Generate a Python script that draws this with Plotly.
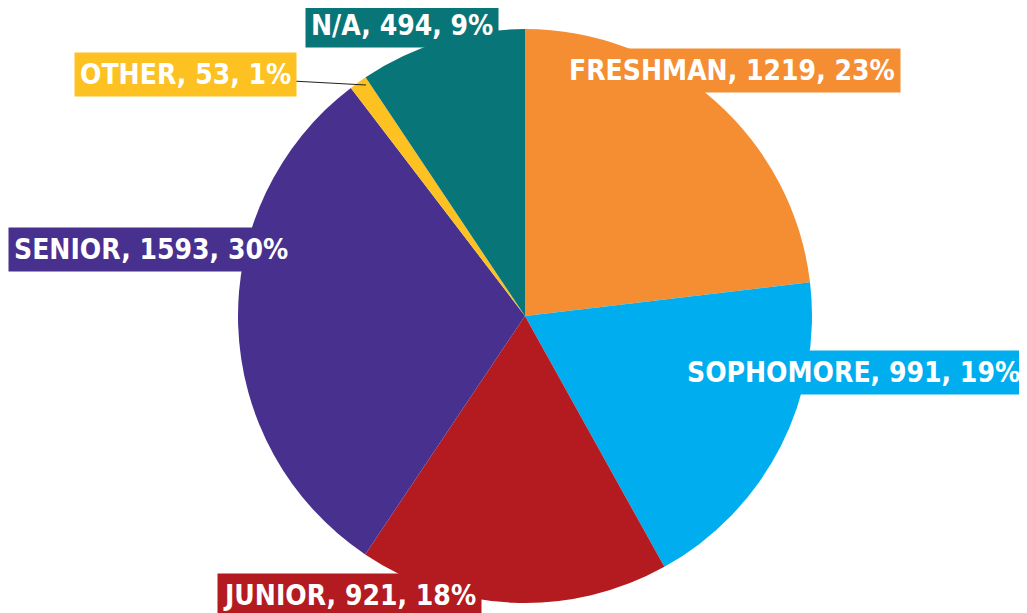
import plotly.graph_objects as go

categories = ["FRESHMAN", "SOPHOMORE", "JUNIOR", "SENIOR", "OTHER", "N/A"]
counts = [1219, 991, 921, 1593, 53, 494]
percents = [23, 19, 18, 30, 1, 9]
colors = ["#F58D33", "#00AEEF", "#B31B20", "#48308F", "#FDC121", "#087579"]

W, H = 1027, 613
OFF = 8  # page body margin offset compensation

def fx(px):
    return (px - OFF) / W

def fy(py):
    return 1 - (py - OFF) / H

fig = go.Figure(go.Pie(
    labels=categories,
    values=counts,
    sort=False,
    direction="clockwise",
    rotation=0,
    marker=dict(colors=colors, line=dict(width=0)),
    textinfo="none",
    hoverinfo="label+value+percent",
    showlegend=False,
    domain=dict(x=[fx(238), fx(812)], y=[fy(603), fy(29)]),
))

# label box placement (top-left pixel corner of each box, in page pixels)
box_pos = {
    "FRESHMAN": (563, 48),
    "SOPHOMORE": (681, 350),
    "JUNIOR": (217, 573),
    "SENIOR": (8, 227),
    "OTHER": (74, 52),
    "N/A": (305, 3),
}

font_family = "Liberation Sans Narrow, Arial Narrow, DejaVu Sans Condensed, sans-serif"
for cat, cnt, pct, col in zip(categories, counts, percents, colors):
    px, py = box_pos[cat]
    fig.add_annotation(
        x=fx(px), y=fy(py), xref="paper", yref="paper",
        xanchor="left", yanchor="top",
        text=f"<b>{cat}, {cnt}, {pct}%</b>",
        showarrow=False,
        bgcolor=col,
        borderpad=5,
        font=dict(family=font_family, size=28, color="white"),
    )

# leader line from OTHER label to its slice
fig.add_shape(type="line", xref="paper", yref="paper",
              x0=fx(292), y0=fy(81), x1=fx(366), y1=fy(85),
              line=dict(color="#222222", width=1.2))

fig.update_layout(
    width=W, height=H,
    margin=dict(l=0, r=0, t=0, b=0),
    paper_bgcolor="white",
    plot_bgcolor="white",
)

fig.write_html("out.html")
